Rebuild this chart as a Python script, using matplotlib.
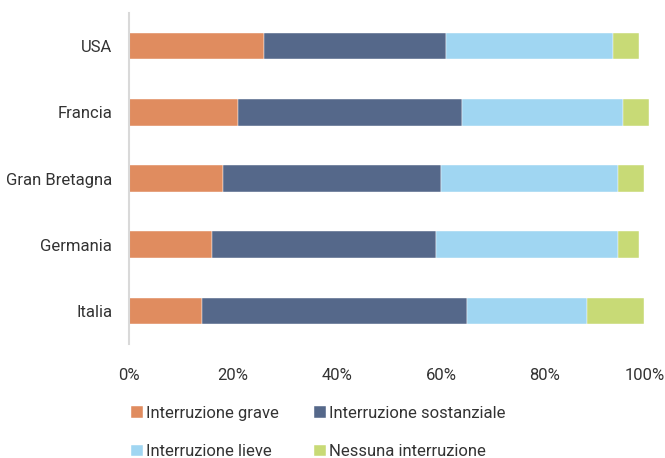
import matplotlib.pyplot as plt
import matplotlib.transforms as mtransforms
import numpy as np

plt.rcParams['font.family'] = ['Roboto', 'DejaVu Sans']

countries = ["Italia", "Germania", "Gran Bretagna", "Francia", "USA"]
grave = [14, 16, 18, 21, 26]
sostanziale = [51, 43, 42, 43, 35]
lieve = [23, 35, 34, 31, 32]
nessuna = [11, 4, 5, 5, 5]

series = [
    ("Interruzione grave", grave, "#E08C5F"),
    ("Interruzione sostanziale", sostanziale, "#55688A"),
    ("Interruzione lieve", lieve, "#A0D6F2"),
    ("Nessuna interruzione", nessuna, "#C8DA76"),
]

fig = plt.figure(figsize=(6.65, 4.58), dpi=100)
ax = fig.add_axes([129 / 665, 1 - 344 / 458, 520 / 665, 331 / 458])

y = np.arange(len(countries))
left = np.zeros(len(countries))
handles = []
for name, vals, col in series:
    b = ax.barh(y, vals, left=left, height=0.4, color=col, edgecolor='white', linewidth=0.3, label=name)
    handles.append(b)
    left += np.array(vals)

ax.set_xlim(0, 100)
ax.set_ylim(-0.5, 4.5)
ax.set_yticks(y)
ax.set_yticklabels(countries)
ax.set_xticks(np.arange(0, 101, 20))
ax.set_xticklabels([f"{v}%" for v in range(0, 101, 20)])
ax.tick_params(length=0, labelsize=12, colors='#333333')
ax.tick_params(axis='y', pad=12)
ax.tick_params(axis='x', pad=17)
for s in ['top', 'right', 'bottom']:
    ax.spines[s].set_visible(False)
ax.spines['left'].set_color('#d9d9d9')
ax.spines['left'].set_linewidth(1.5)

# keep "100%" inside the canvas
last = ax.get_xticklabels()[-1]
last.set_transform(last.get_transform() + mtransforms.ScaledTranslation(-4 / 100, 0, fig.dpi_scale_trans))

order = [0, 2, 1, 3]
fig.legend([handles[i] for i in order], [series[i][0] for i in order],
           loc='upper left', bbox_to_anchor=(116 / 665, 1 - 391 / 458), ncol=2, frameon=False,
           handlelength=0.7, handleheight=0.7, handletextpad=0.2, columnspacing=2.1,
           labelspacing=1.4, fontsize=12, labelcolor='#333333')

fig.savefig("out.png", dpi=100)
